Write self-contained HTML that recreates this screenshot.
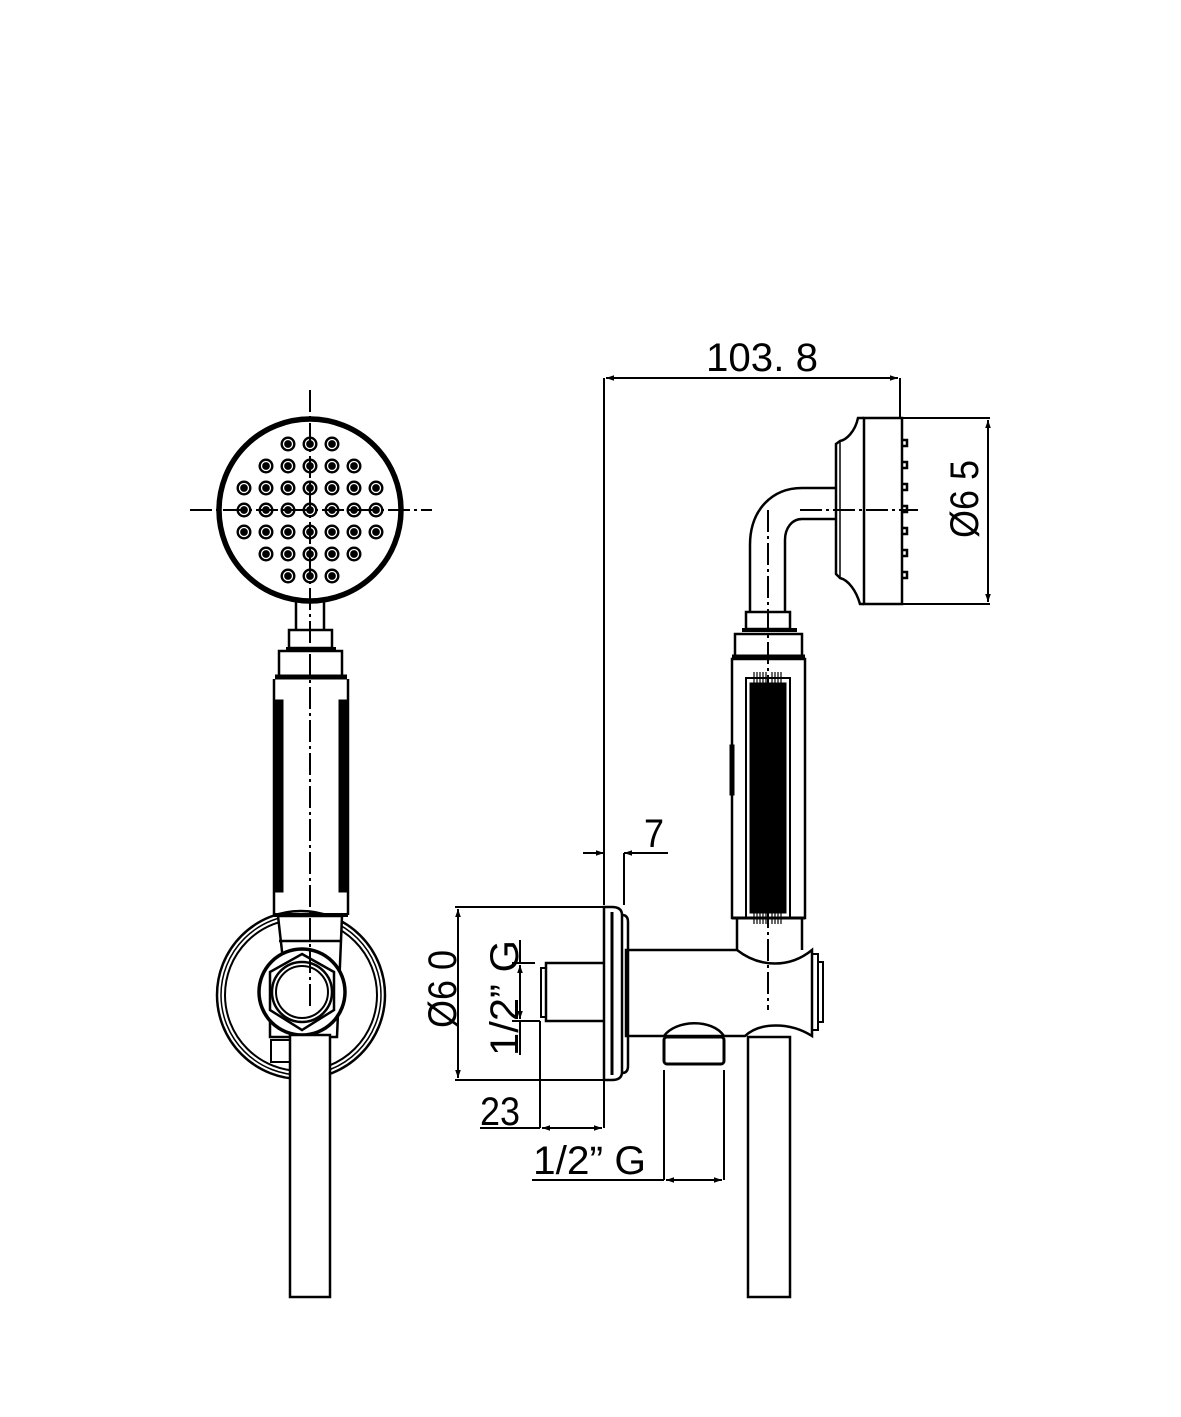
<!DOCTYPE html>
<html><head><meta charset="utf-8"><style>
html,body{margin:0;padding:0;background:#fff}
svg{display:block}
text{font-family:"Liberation Sans Narrow","Liberation Sans",sans-serif;fill:#000}
</style></head><body>
<svg width="1181" height="1417" viewBox="0 0 1181 1417" xmlns="http://www.w3.org/2000/svg">
<defs>
<g id="nz"><circle r="7.5" fill="#000"/><circle r="4.5" fill="none" stroke="#fff" stroke-width="1.3"/></g>
<marker id="ar" viewBox="0 0 10 10" refX="10" refY="5" markerWidth="10" markerHeight="8" orient="auto-start-reverse" markerUnits="userSpaceOnUse"><path d="M0,1.5 L10,5 L0,8.5z" fill="#000"/></marker>
</defs>
<g fill="none" stroke="#000" stroke-width="2.5">
<!-- FRONT VIEW -->
<circle cx="310" cy="510" r="91" stroke-width="5.5"/>
<g stroke="none">
<use href="#nz" x="288" y="444"/><use href="#nz" x="310" y="444"/><use href="#nz" x="332" y="444"/>
<use href="#nz" x="266" y="466"/><use href="#nz" x="288" y="466"/><use href="#nz" x="310" y="466"/><use href="#nz" x="332" y="466"/><use href="#nz" x="354" y="466"/>
<use href="#nz" x="244" y="488"/><use href="#nz" x="266" y="488"/><use href="#nz" x="288" y="488"/><use href="#nz" x="310" y="488"/><use href="#nz" x="332" y="488"/><use href="#nz" x="354" y="488"/><use href="#nz" x="376" y="488"/>
<use href="#nz" x="244" y="510"/><use href="#nz" x="266" y="510"/><use href="#nz" x="288" y="510"/><use href="#nz" x="310" y="510"/><use href="#nz" x="332" y="510"/><use href="#nz" x="354" y="510"/><use href="#nz" x="376" y="510"/>
<use href="#nz" x="244" y="532"/><use href="#nz" x="266" y="532"/><use href="#nz" x="288" y="532"/><use href="#nz" x="310" y="532"/><use href="#nz" x="332" y="532"/><use href="#nz" x="354" y="532"/><use href="#nz" x="376" y="532"/>
<use href="#nz" x="266" y="554"/><use href="#nz" x="288" y="554"/><use href="#nz" x="310" y="554"/><use href="#nz" x="332" y="554"/><use href="#nz" x="354" y="554"/>
<use href="#nz" x="288" y="576"/><use href="#nz" x="310" y="576"/><use href="#nz" x="332" y="576"/>
</g>
<!-- holder rings (behind) -->
<circle cx="301" cy="995" r="84"/>
<circle cx="301" cy="995" r="80" stroke-width="1.5"/>
<circle cx="301" cy="995" r="76" stroke-width="2"/>
<!-- stem & collars -->
<path d="M296,602 V630 M324,602 V630"/>
<rect x="289" y="630" width="43" height="18"/>
<path d="M286,649 H336" stroke-width="4"/>
<rect x="279" y="651" width="63" height="25"/>
<path d="M275,677 H347" stroke-width="5"/>
<path d="M274,679 V915 M348,679 V915"/>
<rect x="275" y="700" width="8" height="192" fill="#000" stroke-width="1"/>
<rect x="339" y="700" width="8" height="192" fill="#000" stroke-width="1"/>
<!-- bracket -->
<path d="M278,916 H342 L337,1037 H270 V1012 L283,960 Z" fill="#fff"/>
<path d="M274,915 H348" stroke-width="4"/>
<path d="M279,941 H341"/>
<circle cx="302" cy="992" r="43" stroke-width="3.5" fill="#fff"/>
<path d="M302,954 L334,972 L334,1010 L302,1030 L270,1010 L270,972 Z"/>
<circle cx="302" cy="992" r="30"/>
<circle cx="302" cy="992" r="26" stroke-width="2"/>
<rect x="271" y="1040" width="19" height="22" stroke-width="2" fill="#fff"/>
<rect x="290" y="1035" width="40" height="262" fill="#fff"/>
<!-- centre lines -->
<path d="M310,390 V1010" stroke-width="2" stroke-dasharray="22,4,3,4"/>
<path d="M190,510 H432" stroke-width="2" stroke-dasharray="22,4,3,4"/>
<!-- SIDE VIEW -->
<path d="M864,418 H902 V604 H864 Z"/>
<path d="M864,418 L858,418 C855,432 846,440 840,441 L836,444 V574 L840,578 C848,580 856,590 860,604 L864,604"/>
<path d="M840,441 V578" stroke-width="1.5"/>
<g stroke-width="2.5">
<path d="M902,440 h5 v6 h-5 M902,462 h5 v6 h-5 M902,484 h5 v6 h-5 M902,506 h5 v6 h-5 M902,528 h5 v6 h-5 M902,550 h5 v6 h-5 M902,572 h5 v6 h-5"/>
</g>
<path d="M836,488 H802 C772,488 750,510 750,545 V612"/>
<path d="M836,519 H802 C792,519 785,528 785,540 V612"/>
<path d="M800,510 H918" stroke-width="2" stroke-dasharray="22,4,3,4"/>
<path d="M768,510 V1010" stroke-width="2" stroke-dasharray="22,4,3,4"/>
<rect x="746" y="612" width="44" height="17"/>
<path d="M742,630 H797" stroke-width="4"/>
<rect x="735" y="634" width="67" height="23"/>
<path d="M732,657 H805" stroke-width="5"/>
<rect x="732" y="659" width="73" height="259"/>
<rect x="746" y="678" width="44" height="240" stroke-width="2"/>
<rect x="750" y="683" width="36" height="230" fill="#000" stroke-width="1"/>
<path d="M754,672 v11 M757,672 v11 M760,672 v11 M763,672 v11 M766,672 v11 M772,672 v11 M775,672 v11 M778,672 v11 M781,672 v11 M754,913 v11 M757,913 v11 M760,913 v11 M763,913 v11 M766,913 v11 M772,913 v11 M775,913 v11 M778,913 v11 M781,913 v11" stroke-width="1.2"/>
<rect x="730" y="745" width="4" height="50" fill="#000" stroke-width="1"/>
<path d="M732,918 H805" stroke-width="3"/>
<path d="M737,918 V950 M802,918 V950"/>
<path d="M626,950 H737 C760,968 790,968 812,950 V1036 C790,1022 760,1022 745,1036 H626 Z"/>
<path d="M812,954 H818 V1030 H812 M818,962 H823 V1022 H818" stroke-width="2"/>
<path d="M664,1036 C675,1020 712,1018 724,1036"/>
<rect x="664" y="1037" width="60" height="27" rx="3" stroke-width="3"/>
<rect x="748" y="1037" width="42" height="260" fill="#fff"/>
<path d="M604,907 H612 Q622,907 622,915 V1072 Q622,1080 612,1080 H604 Z" fill="#fff"/>
<path d="M612,912 V1075" stroke-width="3"/>
<path d="M622,915 Q628,915 628,922 V1066 Q628,1073 622,1073"/>
<path d="M604,963 H546 V1021 H604"/>
<path d="M546,968 H541 V1017 H546" stroke-width="2"/>
<!-- DIMENSIONS -->
<g stroke-width="2">
<path d="M604,378 V905 M900,378 V418" />
<path d="M606,378 H898" marker-start="url(#ar)" marker-end="url(#ar)"/>
<path d="M902,418 H990 M902,604 H990"/>
<path d="M988,420 V602" marker-start="url(#ar)" marker-end="url(#ar)"/>
<path d="M624,853 V905"/>
<path d="M583,853 H604" marker-end="url(#ar)"/>
<path d="M668,853 H624" marker-end="url(#ar)"/>
<path d="M455,907 H604 M455,1080 H604"/>
<path d="M458,909 V1078" marker-start="url(#ar)" marker-end="url(#ar)"/>
<path d="M512,963 H535 M512,1021 H540"/>
<path d="M520,965 V1019" marker-start="url(#ar)" marker-end="url(#ar)"/>
<path d="M520,940 V963 M520,1021 V1055"/>
<path d="M540,1021 V1128 M604,1080 V1128"/>
<path d="M480,1128 H540"/>
<path d="M542,1128 H602" marker-start="url(#ar)" marker-end="url(#ar)"/>
<path d="M664,1070 V1180 M724,1070 V1180"/>
<path d="M532,1180 H664"/>
<path d="M666,1180 H722" marker-start="url(#ar)" marker-end="url(#ar)"/>
</g>
</g>
<g font-size="40">
<text x="706" y="371" textLength="112" lengthAdjust="spacingAndGlyphs">103.  8</text>
<text x="644" y="847" textLength="20" lengthAdjust="spacingAndGlyphs">7</text>
<text x="480" y="1125" textLength="40" lengthAdjust="spacingAndGlyphs">23</text>
<text x="533" y="1174" textLength="113" lengthAdjust="spacingAndGlyphs">1/2”  G</text>
<text transform="translate(978,538) rotate(-90)" textLength="78" lengthAdjust="spacingAndGlyphs">Ø6 5</text>
<text transform="translate(456,1028) rotate(-90)" textLength="78" lengthAdjust="spacingAndGlyphs">Ø6 0</text>
<text transform="translate(518,1056) rotate(-90)" textLength="116" lengthAdjust="spacingAndGlyphs">1/2”  G</text>
</g>
</svg>
</body></html>
